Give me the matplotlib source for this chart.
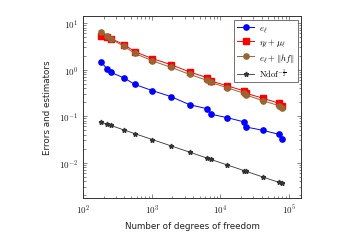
import matplotlib
matplotlib.use('Agg')
import matplotlib.pyplot as plt
from matplotlib.ticker import FuncFormatter

# Datos
ndof = [183, 221, 253, 396, 567, 1013, 1897, 3556, 6427, 7280,
        12570, 22000, 23500, 41200, 71300, 78800]
err = [1.47, 1.05, 0.873, 0.66, 0.479, 0.355, 0.263, 0.176, 0.144, 0.110,
       0.0927, 0.0752, 0.0585, 0.0496, 0.0406, 0.0316]
est = [5.3, 5.14, 4.65, 3.44, 2.43, 1.73, 1.28, 0.891, 0.67, 0.568,
       0.449, 0.349, 0.311, 0.243, 0.189, 0.163]
err_osc = [6.6, 5.4, 4.56, 3.16, 2.23, 1.55, 1.12, 0.79, 0.585, 0.53,
           0.406, 0.311, 0.286, 0.215, 0.168, 0.151]
ref = [0.0739, 0.0673, 0.0629, 0.0503, 0.0420, 0.0314, 0.0230, 0.0168,
       0.0125, 0.0117, 0.00892, 0.00674, 0.00652, 0.00493, 0.00375, 0.00356]

plt.rcParams['mathtext.fontset'] = 'cm'
plt.rcParams['font.family'] = 'DejaVu Sans'

fig = plt.figure(figsize=(3.38, 2.53), dpi=100)
ax = fig.add_axes([0.246, 0.215, 0.645, 0.716])

marron = (0.6, 0.4, 0.2)
ax.plot(ndof, err, color='blue', marker='o', ms=3.8, lw=0.7, label=r'$e_\ell$')
ax.plot(ndof, est, color='red', marker='s', ms=3.8, lw=0.7, label=r'$\eta_\ell+\mu_\ell$')
ax.plot(ndof, err_osc, color=marron, marker='o', ms=3.8, lw=0.7,
        label=r'$e_\ell+\|hf\|$')
ax.plot(ndof, ref, color='#333333', marker='*', ms=3.5, lw=0.6,
        label=r'$\mathrm{Ndof}^{-\frac{1}{2}}$')

ax.set_xscale('log')
ax.set_yscale('log')
ax.set_xlim(100, 1.5e5)
ax.set_ylim(1.77e-3, 13.9)

fmt = FuncFormatter(lambda v, p: r'$10^{%d}$' % round(__import__('math').log10(v)))
ax.xaxis.set_major_formatter(fmt)
ax.yaxis.set_major_formatter(fmt)

ax.tick_params(which='both', direction='in', top=True, right=True,
               labelsize=6.5, width=0.5, colors='#555555', labelcolor='#222222')
ax.tick_params(which='major', length=3)
ax.tick_params(which='minor', length=1.8)
for s in ax.spines.values():
    s.set_linewidth(0.7)
    s.set_color('#333333')

ax.set_xlabel('Number of degrees of freedom', fontsize=6.3, labelpad=4, color='#222222')
ax.set_ylabel('Errors and estimators', fontsize=6.3, labelpad=5, color='#222222')

leg = ax.legend(loc='upper right', fontsize=6.3, frameon=True, fancybox=False,
                edgecolor='#333333', borderpad=0.35, labelspacing=0.3,
                handlelength=2.0, handletextpad=0.5, borderaxespad=0.4)
leg.get_frame().set_linewidth(0.6)

fig.savefig('out.png', dpi=100)
